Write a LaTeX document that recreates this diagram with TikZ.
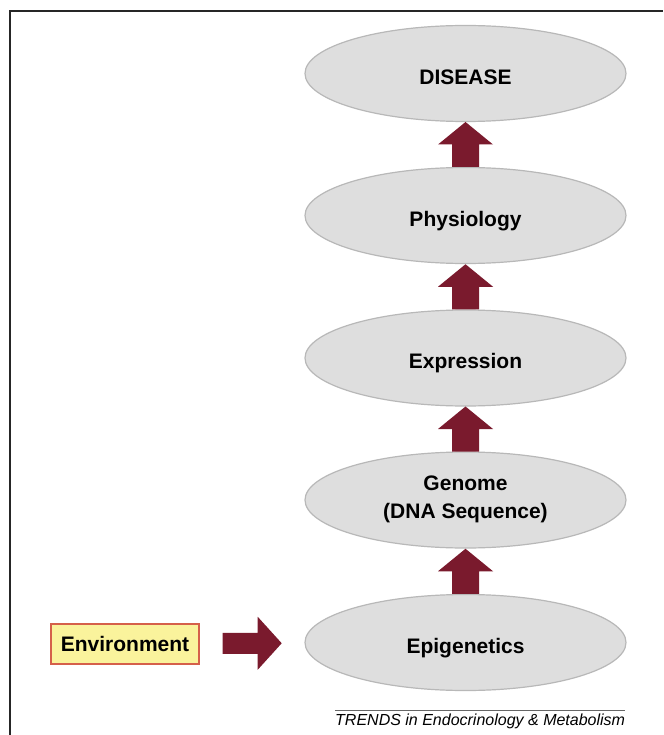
\documentclass[tikz,border=0pt]{standalone}
\usepackage{fontspec}
\setmainfont{Liberation Sans}
\usetikzlibrary{shapes.geometric,calc}
\definecolor{arrowred}{HTML}{7A1A2D}
\definecolor{ellfill}{HTML}{DEDEDE}
\definecolor{ellline}{HTML}{B8B8B8}
\definecolor{envfill}{HTML}{FAF39C}
\definecolor{envline}{HTML}{D5604A}
\tikzset{
  stage/.style={ellipse, fill=ellfill, draw=ellline, line width=1.2pt,
    minimum width=321pt, minimum height=96pt, inner sep=0pt},
  stagetext/.style={anchor=base, inner sep=0pt,
    font=\fontsize{21}{28}\selectfont\bfseries},
  envbox/.style={rectangle, fill=envfill, draw=envline, line width=2pt,
    minimum width=148pt, minimum height=40pt, inner sep=0pt},
  uparrow/.pic={\fill[arrowred] (-13.5,22.5) -- (-13.5,0) -- (-27.5,0) -- (0,-22.5) -- (27.5,0) -- (13.5,0) -- (13.5,22.5) -- cycle;},
  rightarrow/.pic={\fill[arrowred] (-29.5,-10.5) -- (5.5,-10.5) -- (5.5,-26.5) -- (29.5,0) -- (5.5,26.5) -- (5.5,10.5) -- (-29.5,10.5) -- cycle;},
  frameline/.style={line width=1.5pt, black!85}
}
\begin{document}
\begin{tikzpicture}[x=1pt,y=-1pt]
\useasboundingbox (0,0) rectangle (663,735);
\fill[white] (0,0) rectangle (663,735);
\coordinate (fr1) at (10,735);
\coordinate (fr2) at (10,11);
\coordinate (fr3) at (663,11);
\draw[frameline] (fr1) -- (fr2) -- (fr3);

\node[stage] (dis) at (465.5,73.5) {};
\node[stage] (phy) at (465.5,215.5) {};
\node[stage] (exp) at (465.5,358) {};
\node[stage] (gen) at (465.5,500) {};
\node[stage] (epi) at (465.5,642.5) {};

\node[stagetext] (dislbl) at ($(dis.center)+(0,10.7)$) {DISEASE};
\node[stagetext] (phylbl) at ($(phy.center)+(0,10.7)$) {Physiology};
\node[stagetext] (explbl) at ($(exp.center)+(0,10.7)$) {Expression};
\node[stagetext] (genlbla) at ($(gen.center)+(0,-10)$) {Genome};
\node[stagetext] (genlblb) at ($(gen.center)+(0,18)$) {(DNA Sequence)};
\node[stagetext] (epilbl) at ($(epi.center)+(0,11)$) {Epigenetics};

\node[envbox] (env) at (125,644) {};
\node[stagetext] (envlbl) at ($(env.center)+(0,7.5)$) {Environment};

\pic at ($(dis.south)!0.5!(phy.north)$) {uparrow};
\pic at ($(phy.south)!0.5!(exp.north)$) {uparrow};
\pic at ($(exp.south)!0.5!(gen.north)$) {uparrow};
\pic at ($(gen.south)!0.5!(epi.north)$) {uparrow};
\pic at ($(env.east)!0.5!(epi.west)$) {rightarrow};

\coordinate (fl1) at (335,710);
\coordinate (fl2) at (625,710);
\draw[black!60, line width=0.9pt] (fl1) -- (fl2);
\node[anchor=base west, inner sep=0pt, font=\fontsize{16}{18}\selectfont\itshape] (foot) at (335,725) {TRENDS in Endocrinology \& Metabolism};
\end{tikzpicture}
\end{document}
